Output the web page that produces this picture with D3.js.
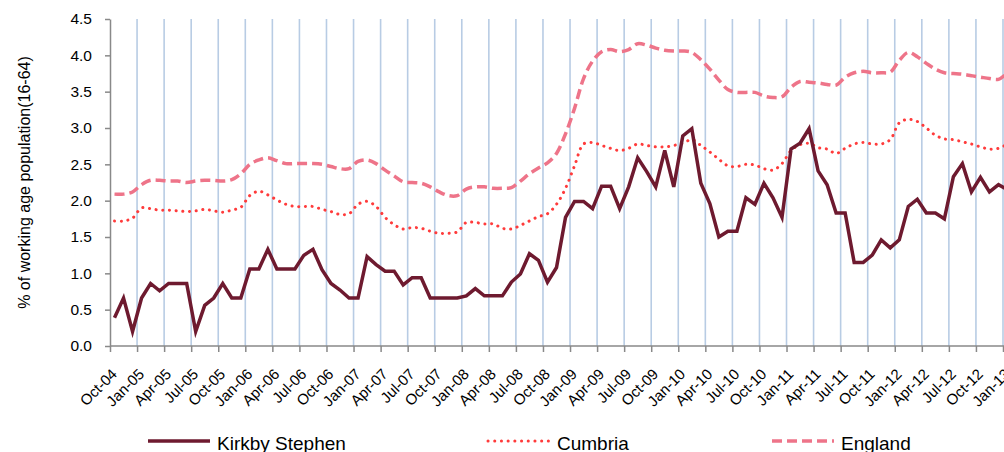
<!DOCTYPE html>
<html>
<head>
<meta charset="utf-8">
<script src="https://cdn.jsdelivr.net/npm/d3@7"></script>
<style>
  body { margin: 0; background: #fff; }
  svg { display: block; font-family: "Liberation Sans", Arial, sans-serif; }
</style>
</head>
<body>
<div id="chart"></div>
<script>
// quarterly tick labels (every 3rd month, starting Oct-04)
const tickLabels = [
    "Oct-04", "Jan-05", "Apr-05", "Jul-05", "Oct-05", "Jan-06", "Apr-06", "Jul-06", "Oct-06",
    "Jan-07", "Apr-07", "Jul-07", "Oct-07", "Jan-08", "Apr-08", "Jul-08", "Oct-08",
    "Jan-09", "Apr-09", "Jul-09", "Oct-09", "Jan-10", "Apr-10", "Jul-10", "Oct-10",
    "Jan-11", "Apr-11", "Jul-11", "Oct-11", "Jan-12", "Apr-12", "Jul-12", "Oct-12", "Jan-13"
];

// monthly values, Oct-04 onwards (% of working age population)
const kirkby = [
    0.39, 0.66, 0.20, 0.66, 0.86, 0.76, 0.86, 0.86, 0.86, 0.20,
    0.56, 0.66, 0.86, 0.66, 0.66, 1.06, 1.06, 1.33, 1.06, 1.06,
    1.06, 1.25, 1.33, 1.05, 0.86, 0.77, 0.66, 0.66, 1.23, 1.12,
    1.03, 1.03, 0.84, 0.94, 0.94, 0.66, 0.66, 0.66, 0.66, 0.69,
    0.79, 0.69, 0.69, 0.69, 0.88, 0.99, 1.27, 1.18, 0.88, 1.08,
    1.77, 1.99, 1.99, 1.89, 2.20, 2.20, 1.89, 2.19, 2.59, 2.40,
    2.19, 2.69, 2.19, 2.89, 2.99, 2.24, 1.96, 1.50, 1.58, 1.58,
    2.04, 1.95, 2.24, 2.04, 1.77, 2.71, 2.79, 2.99, 2.41, 2.22,
    1.83, 1.83, 1.15, 1.15, 1.25, 1.46, 1.35, 1.46, 1.92, 2.02,
    1.83, 1.83, 1.75, 2.33, 2.51, 2.12, 2.32, 2.12, 2.22, 2.15
];

const cumbria = [
    1.72, 1.72, 1.76, 1.90, 1.89, 1.87, 1.87, 1.86, 1.85, 1.86,
    1.88, 1.86, 1.84, 1.87, 1.91, 2.07, 2.13, 2.08, 2.01, 1.95,
    1.92, 1.92, 1.92, 1.88, 1.85, 1.81, 1.82, 1.95, 1.99, 1.92,
    1.77, 1.67, 1.61, 1.63, 1.62, 1.58, 1.55, 1.55, 1.57, 1.70,
    1.70, 1.68, 1.68, 1.62, 1.61, 1.66, 1.72, 1.78, 1.82, 1.95,
    2.17, 2.48, 2.78, 2.80, 2.76, 2.72, 2.69, 2.72, 2.78, 2.76,
    2.74, 2.74, 2.76, 2.79, 2.84, 2.76, 2.67, 2.57, 2.48, 2.47,
    2.50, 2.49, 2.44, 2.42, 2.51, 2.69, 2.77, 2.79, 2.73, 2.71,
    2.65, 2.72, 2.78, 2.80, 2.78, 2.78, 2.84, 3.07, 3.12, 3.09,
    3.00, 2.90, 2.85, 2.84, 2.81, 2.78, 2.74, 2.71, 2.72, 2.78
];

const england = [
    2.09, 2.09, 2.12, 2.22, 2.28, 2.28, 2.27, 2.27, 2.25, 2.27,
    2.28, 2.28, 2.27, 2.29, 2.37, 2.50, 2.56, 2.59, 2.55, 2.51,
    2.51, 2.51, 2.51, 2.50, 2.47, 2.44, 2.44, 2.54, 2.56, 2.51,
    2.42, 2.34, 2.26, 2.25, 2.24, 2.19, 2.12, 2.07, 2.07, 2.16,
    2.19, 2.19, 2.17, 2.17, 2.18, 2.27, 2.37, 2.45, 2.52, 2.65,
    2.92, 3.27, 3.68, 3.92, 4.05, 4.08, 4.05, 4.08, 4.16, 4.14,
    4.10, 4.07, 4.06, 4.06, 4.04, 3.94, 3.81, 3.66, 3.53, 3.49,
    3.49, 3.49, 3.44, 3.42, 3.43, 3.56, 3.64, 3.63, 3.62, 3.60,
    3.59, 3.70, 3.76, 3.78, 3.76, 3.76, 3.77, 3.93, 4.04, 3.98,
    3.89, 3.81, 3.76, 3.75, 3.74, 3.72, 3.70, 3.68, 3.67, 3.76
];

const yTicks = [0, 0.5, 1.0, 1.5, 2.0, 2.5, 3.0, 3.5, 4.0, 4.5];

const width = 1004, height = 452;
const margin = { top: 19, left: 110, bottom: 346 };

const svg = d3.select("#chart").append("svg")
    .attr("width", width)
    .attr("height", height);

// months on a linear index scale, points sit in the middle of each month slot
const x = d3.scaleLinear().domain([0, 99]).range([margin.left, 1003]);
const y = d3.scaleLinear().domain([0, 4.5]).range([margin.bottom, margin.top]);

const quarterIdx = tickLabels.map((d, i) => i * 3);

// vertical gridlines at each quarter
svg.append("g")
    .selectAll("line")
    .data(quarterIdx.slice(1))
    .join("line")
    .attr("x1", d => x(d))
    .attr("x2", d => x(d))
    .attr("y1", y(0))
    .attr("y2", y(4.5))
    .attr("stroke", "#b8cce4")
    .attr("stroke-width", 1.6);

// y axis
const yAxis = svg.append("g")
    .attr("transform", `translate(${margin.left},0)`)
    .call(d3.axisLeft(y).tickValues(yTicks).tickFormat(d3.format(".1f")).tickSize(5).tickPadding(13).tickSizeOuter(0));
yAxis.select(".domain").attr("stroke", "#898989").attr("stroke-width", 1.5);
yAxis.selectAll(".tick line").attr("stroke", "#898989").attr("stroke-width", 1.5);
yAxis.selectAll("text").attr("font-size", 15.5).attr("fill", "#000").attr("font-family", "Liberation Sans, Arial, sans-serif");

// x axis
const xAxis = svg.append("g")
    .attr("transform", `translate(0,${margin.bottom})`)
    .call(d3.axisBottom(x).tickValues(quarterIdx).tickFormat((d, i) => tickLabels[i]).tickSize(6).tickSizeOuter(0));
xAxis.select(".domain").attr("stroke", "#898989").attr("stroke-width", 1.5)
    .attr("d", `M${margin.left},0H${width}`);
xAxis.selectAll(".tick line").attr("stroke", "#898989").attr("stroke-width", 1.5);
xAxis.selectAll("text")
    .attr("font-size", 15)
    .attr("fill", "#000")
    .attr("font-family", "Liberation Sans, Arial, sans-serif")
    .attr("text-anchor", "end")
    .attr("x", 0)
    .attr("y", 0)
    .attr("dy", 0)
    .attr("transform", "translate(7.5,29) rotate(-45)");

// y axis title
svg.append("text")
    .attr("transform", `translate(30,${(margin.top + margin.bottom) / 2}) rotate(-90)`)
    .attr("text-anchor", "middle")
    .attr("font-size", 16)
    .text("% of working age population(16-64)");

// lines
const smooth = d3.line()
    .x((d, i) => x(i + 0.5))
    .y(d => y(d))
    .curve(d3.curveCatmullRom.alpha(0.5));

const straight = d3.line()
    .x((d, i) => x(i + 0.5))
    .y(d => y(d));

svg.append("path")
    .datum(england)
    .attr("d", smooth)
    .attr("fill", "none")
    .attr("stroke", "#ee7489")
    .attr("stroke-width", 3.5)
    .attr("stroke-dasharray", "10,5");

svg.append("path")
    .datum(cumbria)
    .attr("d", smooth)
    .attr("fill", "none")
    .attr("stroke", "#ff3b3b")
    .attr("stroke-width", 3)
    .attr("stroke-linecap", "round")
    .attr("stroke-dasharray", "0.1,6.6");

svg.append("path")
    .datum(kirkby)
    .attr("d", straight)
    .attr("fill", "none")
    .attr("stroke", "#6e1a2f")
    .attr("stroke-width", 3.5)
    .attr("stroke-linejoin", "miter");

// legend
const legendItems = [
    { label: "Kirkby Stephen", x: 148, color: "#6e1a2f", dash: null, width: 3.5, cap: "butt" },
    { label: "Cumbria", x: 488, color: "#ff3b3b", dash: "0.1,6.6", width: 3, cap: "round" },
    { label: "England", x: 772, color: "#ee7489", dash: "10,5", width: 3.5, cap: "butt" }
];

const legend = svg.append("g")
    .selectAll("g")
    .data(legendItems)
    .join("g")
    .attr("transform", d => `translate(${d.x},441)`);

legend.append("line")
    .attr("x1", 0)
    .attr("x2", 62)
    .attr("stroke", d => d.color)
    .attr("stroke-width", d => d.width)
    .attr("stroke-linecap", d => d.cap)
    .attr("stroke-dasharray", d => d.dash);

legend.append("text")
    .attr("x", 69)
    .attr("y", 9)
    .attr("font-size", 19)
    .attr("fill", "#000")
    .text(d => d.label);
</script>
</body>
</html>
